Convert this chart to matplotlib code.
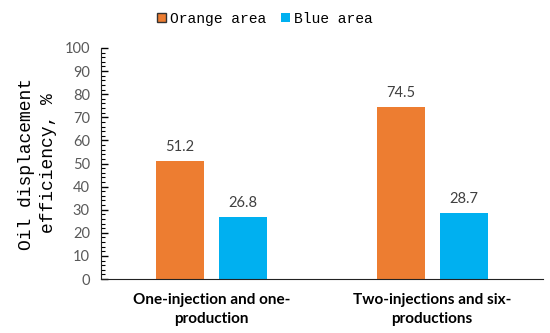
import numpy as np
import matplotlib
matplotlib.use("Agg")
import matplotlib.pyplot as plt
from matplotlib.ticker import MultipleLocator

categories = ["One-injection and one-\nproduction", "Two-injections and six-\nproductions"]
series_names = ["Orange area", "Blue area"]
orange_vals = [51.2, 74.5]
blue_vals = [26.8, 28.7]

colors = ["#ED7D31", "#00B0F0"]

fig = plt.figure(figsize=(5.5, 3.33), dpi=100)
ax = fig.add_axes([0.1836, 0.162, 0.803, 0.694])

x = np.arange(len(categories))
w = 0.218
off = 0.143
b1 = ax.bar(x - off, orange_vals, w, color=colors[0], label=series_names[0])
b2 = ax.bar(x + off, blue_vals, w, color=colors[1], label=series_names[1])

for bars, vals in [(b1, orange_vals), (b2, blue_vals)]:
    for r, v in zip(bars, vals):
        ax.text(r.get_x() + r.get_width() / 2, v + 3.0, f"{v:.1f}",
                ha="center", va="bottom", fontsize=10.5, color="#404040",
                family="Lato")

ax.set_xlim(-0.5, 1.5)
ax.set_ylim(0, 100)
ax.yaxis.set_major_locator(MultipleLocator(10))
ax.yaxis.set_minor_locator(MultipleLocator(2))
ax.tick_params(axis="y", which="major", direction="in", length=5, width=1,
               labelsize=10.5, labelcolor="#595959", pad=8)
ax.tick_params(axis="y", which="minor", direction="in", length=3, width=0.8)
for lab in ax.get_yticklabels():
    lab.set_family("Lato")

ax.set_xticks(x)
ax.set_xticklabels(categories, fontsize=11, fontweight="bold",
                   family="Lato", linespacing=1.45)
ax.tick_params(axis="x", length=0, pad=10)

for s in ["top", "right"]:
    ax.spines[s].set_visible(False)
ax.spines["left"].set_color("#222222")
ax.spines["bottom"].set_color("#222222")

ax.set_ylabel("Oil displacement\nefficiency, %", family="Liberation Mono",
              fontsize=13, labelpad=5, linespacing=1.45)

leg = fig.legend(handles=[b1, b2], loc="center", bbox_to_anchor=(0.482, 0.943),
                 ncol=2, frameon=False, prop={"family": "Liberation Mono", "size": 10.5},
                 handlelength=0.6, handleheight=0.6, handletextpad=0.3,
                 columnspacing=1.0)
leg.legend_handles[0].set_edgecolor("#333333")

fig.savefig("out.png", dpi=100)
